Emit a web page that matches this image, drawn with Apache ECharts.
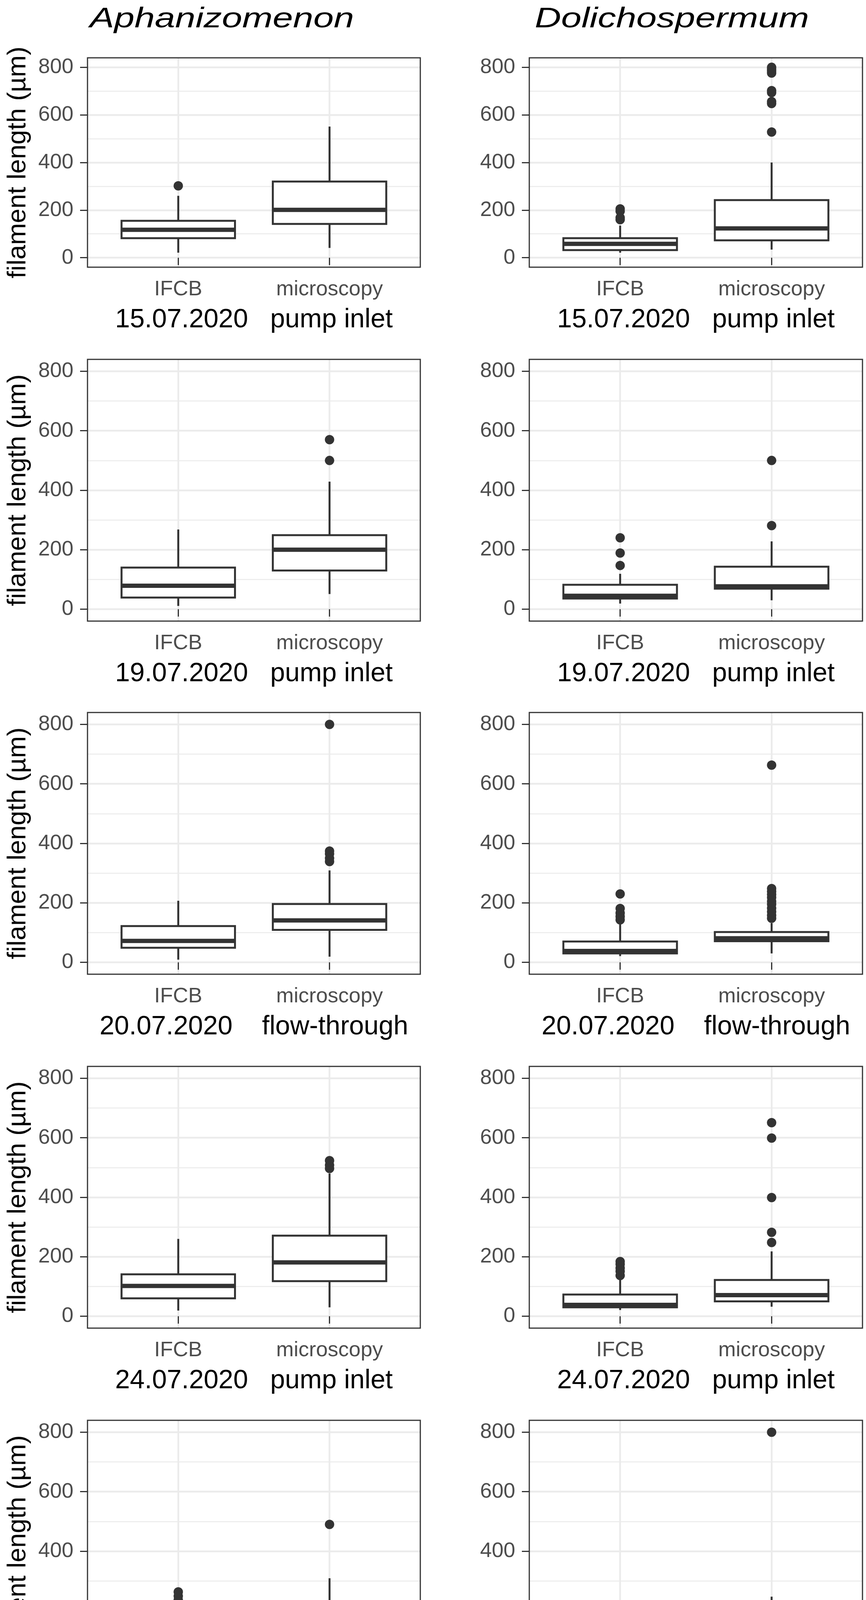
<!DOCTYPE html>
<html><head><meta charset="utf-8">
<script src="https://cdn.jsdelivr.net/npm/echarts@6/dist/echarts.min.js"></script>
<style>html,body{margin:0;padding:0;background:#fff}#c{width:2217px;height:4486px}</style>
</head><body><div id="c"></div>
<script>
// ---------- data ----------
const taxa = ['Aphanizomenon', 'Dolichospermum'];
const methods = ['IFCB', 'microscopy'];
const dates = ['15.07.2020', '19.07.2020', '20.07.2020', '24.07.2020', '27.07.2020'];
const sites = ['pump inlet', 'pump inlet', 'flow-through', 'pump inlet', 'flow-through'];
const yTicks = [0, 200, 400, 600, 800];
const yMinorTicks = [100, 300, 500, 700];
const yTitle = 'filament length (µm)';
// box stats per date: [whisker low, Q1, median, Q3, whisker high]
const aphIFCB = [[21, 82, 117, 155, 260], [11, 39, 79, 140, 268], [9, 49, 72, 122, 207], [19, 60, 102, 141, 260], [20, 49, 81, 121, 198]];
const aphMicro = [[41, 142, 201, 320, 551], [51, 130, 200, 249, 429], [19, 109, 141, 196, 309], [30, 118, 181, 271, 480], [40, 81, 140, 190, 309]];
const dolIFCB = [[21, 32, 58, 82, 135], [19, 36, 45, 82, 119], [21, 30, 38, 70, 132], [21, 30, 38, 73, 125], [21, 29, 45, 90, 158]];
const dolMicro = [[34, 73, 123, 242, 400], [30, 69, 77, 143, 228], [30, 71, 81, 102, 132], [32, 50, 71, 122, 218], [30, 49, 81, 139, 247]];
// outliers per date
const aphIFCBOut = [[302], [], [], [], [236, 249, 263]];
const aphMicroOut = [[], [500, 570], [339, 350, 365, 374, 800], [497, 508, 523], [490]];
const dolIFCBOut = [[160, 168, 195, 205], [147, 189, 240], [143, 154, 166, 181, 230], [137, 151, 162, 175, 184], []];
const dolMicroOut = [[528, 648, 656, 694, 702, 776, 784, 792, 800], [281, 500], [148, 158, 170, 182, 195, 205, 218, 228, 238, 248, 663], [248, 282, 399, 599, 651], [800]];
const xTitleGap = ['   ', '   ', '    ', '   ', '    '];

// ---------- layout ----------
const FONT = '"Liberation Sans", Arial, sans-serif';
const colLeft = [224, 1355];
const colWidth = [852, 853];
const rowTop = [148, 920, 1824, 2730, 3636];
const rowHeight = [536, 670, 670, 670, 670];
const titleX = [568, 1720];

const boxes = [[aphIFCB, aphMicro], [dolIFCB, dolMicro]];
const outs = [[aphIFCBOut, aphMicroOut], [dolIFCBOut, dolMicroOut]];

function renderBox(params, api) {
  const x = api.value(0);
  const lo = api.value(1), q1 = api.value(2), md = api.value(3), q3 = api.value(4), hi = api.value(5);
  const hw = 0.375;
  const tl = api.coord([x - hw, q3]);
  const br = api.coord([x + hw, q1]);
  const c = api.coord([x, md]);
  const pLo = api.coord([x, lo]);
  const pHi = api.coord([x, hi]);
  const st = { stroke: '#333333', lineWidth: 5 };
  return {
    type: 'group',
    children: [
      { type: 'line', shape: { x1: c[0], y1: tl[1], x2: c[0], y2: pHi[1] }, style: st },
      { type: 'line', shape: { x1: c[0], y1: br[1], x2: c[0], y2: pLo[1] }, style: st },
      { type: 'rect', shape: { x: tl[0], y: tl[1], width: br[0] - tl[0], height: br[1] - tl[1] },
        style: { fill: '#ffffff', stroke: '#333333', lineWidth: 5 } },
      { type: 'line', shape: { x1: tl[0], y1: c[1], x2: br[0], y2: c[1] }, style: { stroke: '#333333', lineWidth: 11 } }
    ]
  };
}

const grid = [], xAxis = [], yAxis = [], series = [];
for (let r = 0; r < 5; r++) {
  for (let col = 0; col < 2; col++) {
    const g = r * 2 + col;
    grid.push({
      left: colLeft[col], top: rowTop[r], width: colWidth[col], height: rowHeight[r],
      show: true, borderColor: '#333333', borderWidth: 3, backgroundColor: 'rgba(0,0,0,0)',
      z: 5, containLabel: false, outerBoundsMode: 'none'
    });
    xAxis.push({
      gridIndex: g, type: 'value', min: 0.4, max: 2.6,
      axisLine: { show: false },
      axisTick: { show: true, length: 19, lineStyle: { color: '#333333', width: 3 }, customValues: [1, 2] },
      axisLabel: { customValues: [1, 2], formatter: v => methods[Math.round(v) - 1], margin: 30,
        fontSize: 54, color: '#4d4d4d', fontFamily: FONT },
      splitLine: { show: true, lineStyle: { color: '#ebebeb', width: 4.5 } },
      name: dates[r] + xTitleGap[r] + sites[r], nameLocation: 'middle', nameGap: 101,
      nameTextStyle: { fontSize: 68, color: '#000000', fontFamily: FONT }
    });
    yAxis.push({
      gridIndex: g, type: 'value', min: -40, max: 840, position: 'left',
      axisLine: { show: false },
      axisTick: { show: true, length: 19, lineStyle: { color: '#333333', width: 3 }, customValues: yTicks },
      axisLabel: { customValues: yTicks, margin: 36, fontSize: 54, color: '#4d4d4d', fontFamily: FONT },
      splitLine: { show: true, lineStyle: { color: '#ebebeb', width: 4.5 } },
      name: col === 0 ? yTitle : '', nameLocation: 'middle', nameRotate: 90, nameGap: 144,
      nameTextStyle: { fontSize: 67, color: '#000000', fontFamily: FONT }
    });
    yAxis.push({
      gridIndex: g, type: 'value', min: -40, max: 840, position: 'left',
      axisLine: { show: false },
      axisTick: { show: false, customValues: yMinorTicks },
      axisLabel: { show: false, customValues: yMinorTicks },
      splitLine: { show: true, lineStyle: { color: '#ebebeb', width: 2.5 } }
    });
    series.push({
      type: 'custom', xAxisIndex: g, yAxisIndex: 2 * g, z: 3, silent: true,
      data: [[1].concat(boxes[col][0][r]), [2].concat(boxes[col][1][r])],
      encode: { x: 0, y: [1, 2, 3, 4, 5] },
      renderItem: renderBox
    });
    const pts = [];
    outs[col][0][r].forEach(v => pts.push([1, v]));
    outs[col][1][r].forEach(v => pts.push([2, v]));
    series.push({
      type: 'scatter', xAxisIndex: g, yAxisIndex: 2 * g, z: 4, silent: true,
      symbol: 'circle', symbolSize: 24, itemStyle: { color: '#333333', opacity: 1 },
      data: pts
    });
  }
}

const chart = echarts.init(document.getElementById('c'), null, { renderer: 'canvas' });
chart.setOption({
  backgroundColor: '#ffffff',
  animation: false,
  grid, xAxis, yAxis, series,
  graphic: taxa.map((t, i) => ({
    type: 'text', x: titleX[i], y: 50, z: 10, scaleX: 1.3,
    style: { text: t, fill: '#000000', fontSize: 72, fontStyle: 'italic', fontFamily: FONT,
      align: 'center', verticalAlign: 'middle' }
  }))
});
</script></body></html>
